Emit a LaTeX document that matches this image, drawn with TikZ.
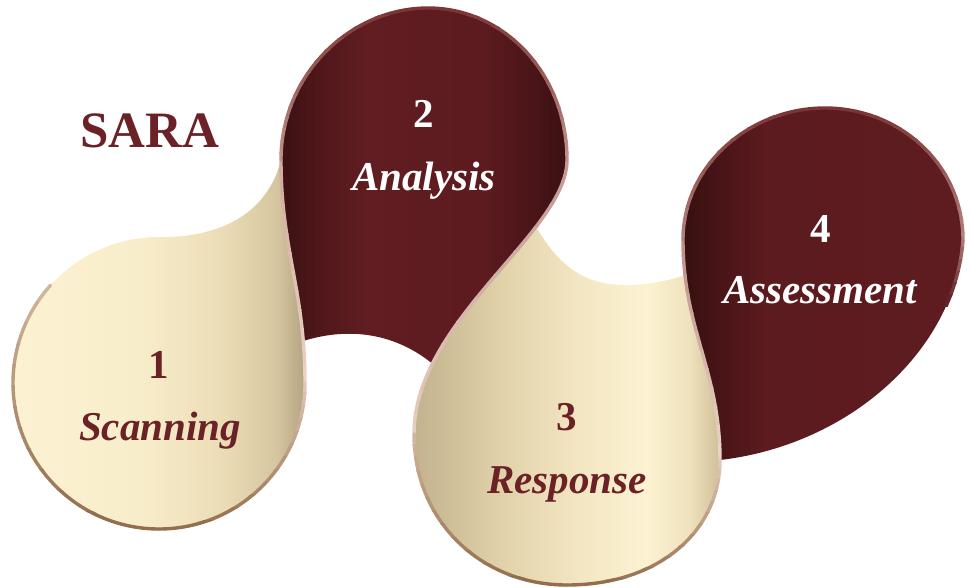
\documentclass[tikz,border=0pt]{standalone}
\usepackage{fontspec}
\setmainfont{Liberation Serif}
\definecolor{txtred}{HTML}{6B2226}
\definecolor{maroon}{HTML}{5E1C20}
\definecolor{cA}{HTML}{FCF2D2}
\definecolor{cB}{HTML}{F8EDCA}
\definecolor{cC}{HTML}{EBDCB6}
\definecolor{cD}{HTML}{D6C6A0}
\definecolor{cE}{HTML}{B4A381}
\definecolor{dA}{HTML}{C2B28E}
\definecolor{dB}{HTML}{CDBD97}
\definecolor{dC}{HTML}{E2D3AB}
\definecolor{dD}{HTML}{F3E6C2}
\definecolor{dE}{HTML}{FCF2D2}
\definecolor{dF}{HTML}{EFE2BD}
\definecolor{dG}{HTML}{CFBF99}
\definecolor{mA}{HTML}{3A1114}
\definecolor{mB}{HTML}{4E171A}
\definecolor{mC}{HTML}{611D21}
\definecolor{mD}{HTML}{5D1B1F}
\definecolor{mE}{HTML}{4A1518}
\definecolor{mF}{HTML}{3A1013}
\definecolor{qA}{HTML}{36100F}
\definecolor{qB}{HTML}{4A1518}
\definecolor{qC}{HTML}{5C1B1F}
% fills
\pgfdeclarehorizontalshading{creamone}{100bp}{color(0bp)=(cA); color(25bp)=(cA); color(47bp)=(cB); color(61bp)=(cC); color(70bp)=(cD); color(75bp)=(cE); color(100bp)=(cE)}
\pgfdeclarehorizontalshading{creamthree}{100bp}{color(0bp)=(dA); color(25bp)=(dA); color(30bp)=(dB); color(40bp)=(dC); color(52bp)=(dD); color(63bp)=(dE); color(70bp)=(dF); color(75bp)=(dG); color(100bp)=(dG)}
\pgfdeclarehorizontalshading{maroontwo}{100bp}{color(0bp)=(mA); color(25bp)=(mA); color(31bp)=(mB); color(40bp)=(mC); color(60bp)=(mD); color(69bp)=(mE); color(75bp)=(mF); color(100bp)=(mF)}
\pgfdeclarehorizontalshading{maroonfour}{100bp}{color(0bp)=(qA); color(25bp)=(qA); color(32bp)=(qB); color(40bp)=(qC); color(75bp)=(maroon); color(100bp)=(maroon)}
% border colours
\definecolor{bA}{HTML}{7A3232}
\definecolor{bB}{HTML}{C3938B}
\definecolor{bC}{HTML}{B58580}
\definecolor{bD}{HTML}{D2A89C}
\definecolor{bE}{HTML}{EAD4C6}
\definecolor{bF}{HTML}{C39690}
\definecolor{bG}{HTML}{E6CFC0}
\definecolor{bH}{HTML}{BD8C86}
\definecolor{bI}{HTML}{ECD8CA}
\definecolor{bJ}{HTML}{E2CAB8}
\definecolor{bK}{HTML}{8F6A48}
\definecolor{bL}{HTML}{D2B89C}
\definecolor{bM}{HTML}{D4B8A0}
\definecolor{bN}{HTML}{E4CCBA}
\definecolor{bO}{HTML}{B07E7A}
% paths
\def\pBtwelve{(281,160) .. controls (281,250) and (305,290) .. (305,383)}
\def\pBtwothree{(567,160) .. controls (567,232) and (414,320) .. (414,434)}
\def\pBthreefour{(683,240) .. controls (683,330) and (720,370) .. (720,460)}
\def\pToptwo{(281,160) .. controls (281,75) and (350,8) .. (428,8) .. controls (505,8) and (567,75) .. (567,160)}
\def\pTopfour{(683,240) .. controls (683,165) and (750,108) .. (825,108) .. controls (900,108) and (963,165) .. (963,240)}
\def\pBotthreeL{(414,434) .. controls (414,520) and (480,585) .. (567,585)}
\def\pBotthreeR{(567,585) .. controls (660,585) and (720,530) .. (720,460)}
\def\pBotfour{(720,460) .. controls (850,445) and (955,350) .. (963,240)}
\def\pOneR{(305,383) arc[start angle=0, end angle=90, radius=146]}
\def\pOneL{(159,529) arc[start angle=90, end angle=222, radius=146]}
% gradient stroke: path, ytop, ybot, top colour, bottom colour, bands
\newcommand\gstroke[6]{%
  \foreach \gi in {1,...,#6}{%
    \pgfmathsetmacro\gya{#2+(\gi-1)*(#3-#2)/#6}%
    \pgfmathsetmacro\gyb{#2+\gi*(#3-#2)/#6+0.8}%
    \pgfmathtruncatemacro\gpc{100*(\gi-0.5)/#6}%
    \begin{scope}
      \clip (-20,\gya) rectangle (1000,\gyb);
      \draw[bline, draw=#5!\gpc!#4] #1;
    \end{scope}
  }%
}
\begin{document}
\begin{tikzpicture}[x=1pt,y=-1pt,
  bline/.style={line width=3.4pt, line cap=round, line join=round},
  numtxt/.style={font=\fontsize{41}{49}\selectfont\bfseries, anchor=base},
  wordtxt/.style={font=\fontsize{41}{49}\selectfont\bfseries\itshape, anchor=base}]
\useasboundingbox (0,0) rectangle (971,588);
% shape 1 (Scanning)
\shade[shading=creamone] (281,160) .. controls (281,250) and (305,290) .. (305,383)
  arc[start angle=0, end angle=270, radius=146]
  .. controls (222,238) and (268,212) .. (281,160) -- cycle;
% shape 3 (Response)
\begin{scope}
  \clip (515,180) .. controls (545,262) and (580,285) .. (625,285)
    .. controls (655,285) and (680,278) .. (705,268) -- (800,268) -- (800,600) -- (380,600) -- (380,180) -- cycle;
  \shade[shading=creamthree] (567,160) .. controls (567,232) and (414,320) .. (414,434)
    .. controls (414,520) and (480,585) .. (567,585)
    .. controls (660,585) and (720,530) .. (720,460)
    .. controls (720,370) and (683,330) .. (683,240) -- cycle;
\end{scope}
% shape 2 (Analysis)
\begin{scope}
  \clip (265,358) .. controls (320,326) and (390,320) .. (445,375) -- (600,375) -- (600,-10) -- (250,-10) -- (250,358) -- cycle;
  \shade[shading=maroontwo] (281,160) .. controls (281,75) and (350,8) .. (428,8)
    .. controls (505,8) and (567,75) .. (567,160)
    .. controls (567,232) and (414,320) .. (414,434) -- (305,383)
    .. controls (305,290) and (281,250) .. (281,160) -- cycle;
\end{scope}
% shape 4 (Assessment)
\shade[shading=maroonfour] (683,240) .. controls (683,330) and (720,370) .. (720,460)
  .. controls (850,445) and (955,350) .. (963,240)
  .. controls (963,165) and (900,108) .. (825,108)
  .. controls (750,108) and (683,165) .. (683,240) -- cycle;
% borders
\gstroke{\pBtwelve}{157}{386}{bD}{bE}{12}
\gstroke{\pBtwothree}{157}{437}{bF}{bG}{12}
\gstroke{\pBthreefour}{237}{463}{bH}{bI}{12}
\gstroke{\pOneR}{380}{533}{bJ}{bK}{12}
\gstroke{\pOneL}{280}{533}{bL}{bK}{12}
\gstroke{\pBotthreeL}{431}{590}{bM}{bK}{12}
\gstroke{\pBotthreeR}{457}{590}{bN}{bK}{12}
\gstroke{\pToptwo}{4}{163}{bA}{bB}{14}
\gstroke{\pTopfour}{104}{243}{bA}{bC}{12}
\begin{scope}
  \clip (900,236) rectangle (1000,306);
  \gstroke{\pBotfour}{236}{306}{bO}{maroon}{6}
\end{scope}
% texts
\node[font=\fontsize{51}{60}\selectfont\bfseries, text=txtred, anchor=base] (title) at (150,148) {SARA};
\node[numtxt, text=txtred] (n1) at (159,378) {1};
\node[wordtxt, text=txtred] (w1) at (160,440) {Scanning};
\node[numtxt, text=white] (n2) at (424,128) {2};
\node[wordtxt, text=white] (w2) at (424,190) {Analysis};
\node[numtxt, text=txtred] (n3) at (567,430) {3};
\node[wordtxt, text=txtred] (w3) at (567,493) {Response};
\node[numtxt, text=white] (n4) at (821,242) {4};
\node[wordtxt, text=white] (w4) at (820,303) {Assessment};
\end{tikzpicture}
\end{document}
